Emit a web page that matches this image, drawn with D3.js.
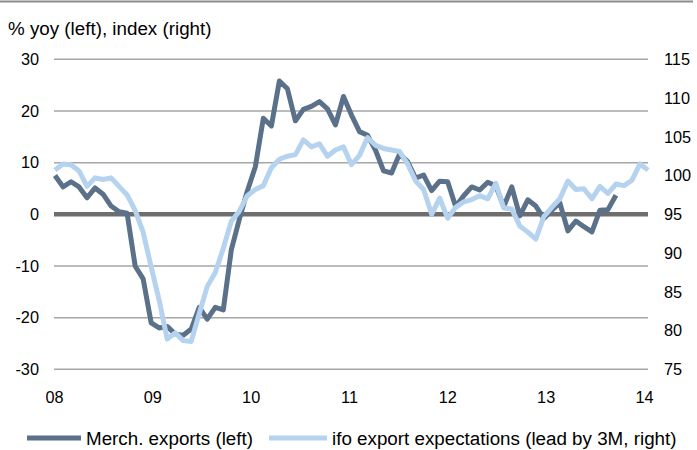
<!DOCTYPE html>
<html>
<head>
<meta charset="utf-8">
<script src="https://cdn.jsdelivr.net/npm/d3@7"></script>
<style>
  body { margin: 0; background: #fff; }
  svg { display: block; font-family: "Liberation Sans", Arial, sans-serif; }
</style>
</head>
<body>
<div id="chart"></div>
<script>
// monthly values, Jan 08 onwards
const merchExports = [7.5, 5.3, 6.3, 5.3, 3.2, 5.1, 3.9, 1.6, 0.5, 0.2,
  -10, -12.5, -21, -22, -21.7, -23.2, -23.4, -22.2, -18, -20.3,
  -18, -18.5, -6.9, -1, 4.5, 9.2, 18.6, 17.1, 25.8, 24.3,
  18.1, 20.3, 20.9, 21.8, 20.4, 17.3, 22.8, 19.2, 16, 15.3,
  12.4, 8.4, 8, 11.7, 10.2, 7, 7.6, 4.6, 6.4, 6.3,
  1.5, 3.6, 5.3, 4.7, 6.2, 5.5, 1.5, 5.3, -0.3, 2.8,
  1.6, -0.8, 0.8, 2.2, -3.2, -1.3, -2.4, -3.4, 0.8, 0.9, 3.7];

const ifoExpectations = [100.7, 101.5, 101.4, 100.6, 98.6, 99.7, 99.5, 99.7, 98.6, 97.5,
  95.5, 92.7, 88.2, 83.9, 78.9, 79.7, 78.7, 78.6, 82.2, 85.7,
  87.5, 90.6, 94.1, 95.4, 97.4, 98.2, 98.7, 101, 102.1, 102.5,
  102.7, 104.6, 103.7, 104.1, 102.5, 103.3, 103.7, 101.4, 102.6, 104.9,
  103.9, 103.5, 103.3, 103.1, 101.5, 99.3, 98.2, 95, 97.1, 94.5,
  95.9, 96.6, 96.9, 97.4, 97, 99, 95.8, 95.7, 93.5, 92.7,
  91.8, 94.7, 95.9, 97, 99.3, 98.2, 98.3, 97, 98.6, 97.7,
  98.9, 98.7, 99.4, 101.5, 100.7];

const yearLabels = ['08', '09', '10', '11', '12', '13', '14'];
const leftTicks = [-30, -20, -10, 0, 10, 20, 30];
const rightTicks = [75, 80, 85, 90, 95, 100, 105, 110, 115];

const seriesNames = ['Merch. exports (left)', 'ifo export expectations (lead by 3M, right)'];
const darkColor = '#5b7189';
const lightColor = '#b5d3ef';

const width = 697;
const height = 450;
const plot = { left: 54, right: 648, top: 59.3, bottom: 369.3 };

const svg = d3.select('#chart').append('svg')
  .attr('width', width)
  .attr('height', height);

// rule across the top
svg.append('line')
  .attr('x1', 0).attr('x2', 693)
  .attr('y1', 1.5).attr('y2', 1.5)
  .attr('stroke', '#8c8c8c')
  .attr('stroke-width', 2);

svg.append('text')
  .attr('x', 8)
  .attr('y', 35)
  .attr('font-size', 18.8)
  .attr('fill', '#000')
  .text('% yoy (left), index (right)');

const x = d3.scaleLinear().domain([0, 74]).range([55, plot.right]);
const xYear = d3.scalePoint().domain(yearLabels).range([54, 644]);
const yLeft = d3.scaleLinear().domain([-30, 30]).range([plot.bottom, plot.top]);
const yRight = d3.scaleLinear().domain([75, 115]).range([plot.bottom, plot.top]);

// gridlines
svg.append('g')
  .selectAll('line')
  .data(leftTicks.filter(d => d !== 0))
  .join('line')
  .attr('x1', plot.left).attr('x2', plot.right)
  .attr('y1', d => yLeft(d)).attr('y2', d => yLeft(d))
  .attr('stroke', '#a6a6a6')
  .attr('stroke-width', 1.5);

svg.append('line')
  .attr('x1', plot.left).attr('x2', plot.right)
  .attr('y1', yLeft(0)).attr('y2', yLeft(0))
  .attr('stroke', '#6e6e6e')
  .attr('stroke-width', 4.5);

// axes (plain hyphen for negatives, like the original)
const plain = d => String(d);

const leftAxis = svg.append('g')
  .attr('transform', 'translate(39,0)')
  .call(d3.axisLeft(yLeft).tickValues(leftTicks).tickFormat(plain).tickSize(0).tickPadding(0));

const rightAxis = svg.append('g')
  .attr('transform', 'translate(664,0)')
  .call(d3.axisRight(yRight).tickValues(rightTicks).tickFormat(plain).tickSize(0).tickPadding(0));

const bottomAxis = svg.append('g')
  .attr('transform', 'translate(0,391)')
  .call(d3.axisBottom(xYear).tickSize(0).tickPadding(0));

[leftAxis, rightAxis, bottomAxis].forEach(g => {
  g.select('.domain').remove();
  g.selectAll('text')
    .attr('font-size', 16.3)
    .attr('font-family', '"Liberation Sans", Arial, sans-serif')
    .attr('fill', '#000');
});

// series
const darkLine = d3.line()
  .x((d, i) => x(i))
  .y(d => yLeft(d));

const lightLine = d3.line()
  .x((d, i) => x(i))
  .y(d => yRight(d));

svg.append('path')
  .datum(merchExports)
  .attr('d', darkLine)
  .attr('fill', 'none')
  .attr('stroke', darkColor)
  .attr('stroke-width', 5)
  .attr('stroke-linejoin', 'round');

svg.append('path')
  .datum(ifoExpectations)
  .attr('d', lightLine)
  .attr('fill', 'none')
  .attr('stroke', lightColor)
  .attr('stroke-width', 5)
  .attr('stroke-linejoin', 'round');

// legend
const legendItems = [
  { name: seriesNames[0], color: darkColor, x0: 27, x1: 81, tx: 86 },
  { name: seriesNames[1], color: lightColor, x0: 269, x1: 327, tx: 332 }
];

const legend = svg.append('g');
legend.selectAll('line')
  .data(legendItems)
  .join('line')
  .attr('x1', d => d.x0).attr('x2', d => d.x1)
  .attr('y1', 438).attr('y2', 438)
  .attr('stroke', d => d.color)
  .attr('stroke-width', 5);

legend.selectAll('text')
  .data(legendItems)
  .join('text')
  .attr('x', d => d.tx)
  .attr('y', 444.5)
  .attr('font-size', 18.8)
  .attr('fill', '#000')
  .text(d => d.name);
</script>
</body>
</html>
